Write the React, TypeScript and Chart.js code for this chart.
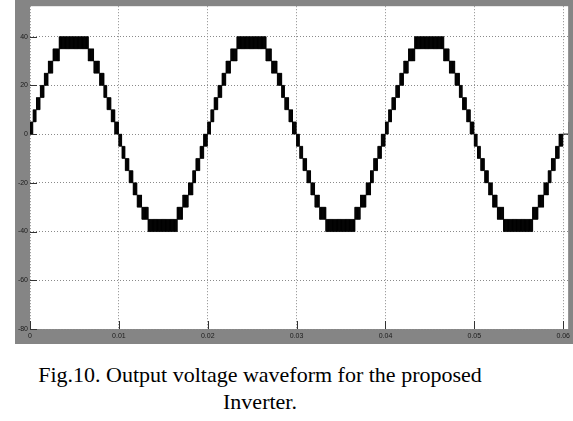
import React, { useEffect, useRef } from "react";
import { Chart, registerables } from "chart.js";

Chart.register(...registerables);

// Axis ticks
const xTickValues = [0, 0.01, 0.02, 0.03, 0.04, 0.05, 0.06];
const xTickLabels = ["0", "0.01", "0.02", "0.03", "0.04", "0.05", "0.06"];
const yTickValues = [40, 20, 0, -20, -40, -60, -80];
const yTickLabels = ["40", "20", "0", "-20", "-40", "-60", "-80"];

// Staircase PWM waveform (one positive half cycle, ms)
// Each burst switches between burstLow[i] and burstHigh[i] from edge[i] to edge[i+1]
const halfCycleEdgesMs = [0, 0.36, 0.73, 1.17, 1.62, 2.07, 2.6, 3.29, 6.56, 7.2, 7.84, 8.32, 8.68, 9.15, 9.54, 10.0];
const burstLow = [0, 5, 10, 15, 20, 25, 30, 35, 30, 25, 20, 15, 10, 5, 0];
const burstHigh = [5, 10, 15, 20, 25, 30, 35, 40, 35, 30, 25, 20, 15, 10, 5];
const halfCycleMs = 10;
const cycleCount = 3;
const switchingStepMs = 0.05; // carrier half-period (PWM switching instants)

function buildWaveform() {
  const pts: { x: number; y: number }[] = [];
  for (let c = 0; c < cycleCount; c++) {
    for (let h = 0; h < 2; h++) {
      const sign = h === 0 ? 1 : -1;
      const offset = (c * 2 + h) * halfCycleMs;
      for (let i = 0; i < burstLow.length; i++) {
        const a = halfCycleEdgesMs[i];
        const b = halfCycleEdgesMs[i + 1];
        const lo = burstLow[i] * sign;
        const hi = burstHigh[i] * sign;
        const n = Math.max(2, Math.round((b - a) / switchingStepMs));
        const rising = i <= 7;
        for (let k = 0; k < n; k++) {
          const t = a + ((b - a) * k) / n;
          const first = rising ? hi : lo;
          const second = rising ? lo : hi;
          pts.push({ x: (offset + t) / 1000, y: k % 2 === 0 ? first : second });
        }
      }
    }
  }
  pts.push({ x: (cycleCount * 2 * halfCycleMs) / 1000, y: 0 });
  pts.push({ x: 0.0606, y: 5 });
  return pts;
}

const plotBg = {
  id: "plotBg",
  beforeDraw(chart: any) {
    const { ctx, chartArea } = chart;
    ctx.save();
    ctx.fillStyle = "#ffffff";
    ctx.fillRect(chartArea.left, chartArea.top, chartArea.right - chartArea.left, chartArea.bottom - chartArea.top);
    ctx.restore();
  },
  afterDraw(chart: any) {
    const { ctx, chartArea, scales } = chart;
    ctx.save();
    ctx.strokeStyle = "#333333";
    ctx.lineWidth = 1;
    ctx.beginPath();
    for (const v of xTickValues) {
      const px = Math.round(scales.x.getPixelForValue(v)) + 0.5;
      ctx.moveTo(px, chartArea.bottom);
      ctx.lineTo(px, chartArea.bottom - 8);
    }
    for (const v of yTickValues) {
      const py = Math.round(scales.y.getPixelForValue(v)) + 0.5;
      ctx.moveTo(chartArea.left, py);
      ctx.lineTo(chartArea.left + 7, py);
    }
    ctx.stroke();
    ctx.restore();
  },
};

const captionStyle: React.CSSProperties = {
  position: "absolute",
  left: 0,
  width: 520,
  textAlign: "center",
  fontFamily: "'Liberation Serif', 'Times New Roman', serif",
  fontSize: 22,
  lineHeight: "26px",
  color: "#000",
  whiteSpace: "nowrap",
};

export default function App() {
  const ref = useRef<HTMLCanvasElement | null>(null);
  useEffect(() => {
    if (!ref.current) return;
    const chart = new Chart(ref.current, {
      type: "line",
      data: {
        datasets: [
          {
            data: buildWaveform(),
            borderColor: "#000000",
            borderWidth: 1,
            pointRadius: 0,
            stepped: true,
            fill: false,
            tension: 0,
          },
        ],
      },
      options: {
        animation: false,
        responsive: false,
        devicePixelRatio: 1,
        parsing: false,
        normalized: true,
        layout: { padding: 0 },
        plugins: { legend: { display: false }, tooltip: { enabled: false }, title: { display: false } },
        events: [],
        scales: {
          x: {
            type: "linear",
            min: 0,
            max: 0.060558,
            afterBuildTicks: (s: any) => {
              s.ticks = xTickValues.map((v) => ({ value: v }));
            },
            afterFit: (s: any) => {
              s.height = 15;
            },
            ticks: {
              autoSkip: false,
              maxRotation: 0,
              padding: 3,
              color: "#1a1a1a",
              font: { family: "Liberation Sans", size: 7 },
              callback: (v: any) => {
                const i = xTickValues.findIndex((t) => Math.abs(t - v) < 1e-9);
                return i >= 0 ? xTickLabels[i] : "";
              },
            },
            grid: { color: "#8a8a8a", drawTicks: false, lineWidth: 1 },
            border: { display: false, dash: [1, 2] },
          },
          y: {
            type: "linear",
            min: -80,
            max: 52.5,
            afterBuildTicks: (s: any) => {
              s.ticks = yTickValues.map((v) => ({ value: v }));
            },
            afterFit: (s: any) => {
              s.width = 15;
            },
            ticks: {
              autoSkip: false,
              padding: 2,
              color: "#1a1a1a",
              font: { family: "Liberation Sans", size: 7 },
              callback: (v: any) => {
                const i = yTickValues.findIndex((t) => Math.abs(t - v) < 1e-9);
                return i >= 0 ? yTickLabels[i] : "";
              },
            },
            grid: { color: "#8a8a8a", drawTicks: false, lineWidth: 1 },
            border: { display: false, dash: [1, 2] },
          },
        },
      },
      plugins: [plotBg],
    } as any);
    return () => chart.destroy();
  }, []);

  return (
    <div style={{ position: "absolute", left: 0, top: 0, width: 573, height: 421, background: "#fff", overflow: "hidden" }}>
      <div style={{ position: "absolute", left: 15, top: 0, width: 558, height: 344, background: "#858585" }} />
      <canvas ref={ref} width={558} height={344} style={{ position: "absolute", left: 15, top: 0, width: 558, height: 344 }} />
      <div style={{ ...captionStyle, top: 362 }}>Fig.10. Output voltage waveform for the proposed</div>
      <div style={{ ...captionStyle, top: 389 }}>Inverter.</div>
    </div>
  );
}
